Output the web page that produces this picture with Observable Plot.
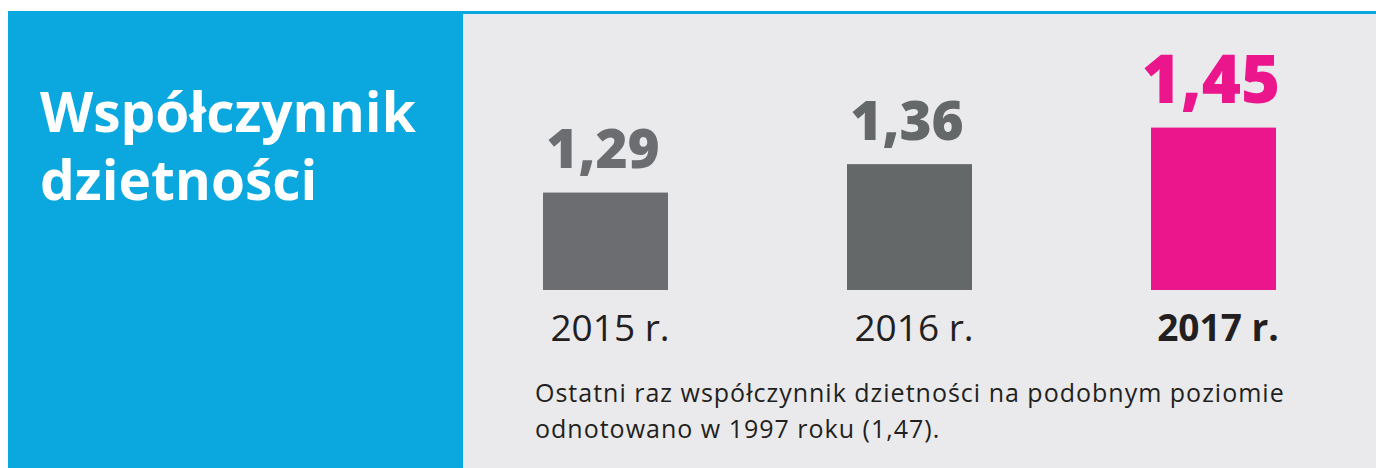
<!DOCTYPE html>
<html><head><meta charset="utf-8">
<script src="https://cdn.jsdelivr.net/npm/d3@7"></script>
<script src="https://cdn.jsdelivr.net/npm/@observablehq/plot@0.6"></script>
<style>
html,body{margin:0;padding:0;background:#fff;width:1376px;height:468px;overflow:hidden;font-family:"Open Sans",sans-serif;}
#blue{position:absolute;left:8px;top:11px;width:455px;height:457px;background:#0ba8e0;}
#topline{position:absolute;left:463px;top:11px;width:913px;height:3px;background:#0ba8e0;}
#gray{position:absolute;left:463px;top:13px;width:913px;height:455px;background:#eaeaec;}
#title{position:absolute;left:40px;top:77px;color:#fff;font-weight:700;font-size:55px;line-height:68px;white-space:nowrap;}
#chart{position:absolute;left:463px;top:13px;}
#caption{position:absolute;left:535px;top:374px;font-size:25px;letter-spacing:1px;line-height:36px;color:#231f20;white-space:nowrap;}
</style>
</head><body>
<div id="blue"></div><div id="gray"></div><div id="topline"></div>
<div id="title"></div>
<div id="chart"></div>
<div id="caption"></div>
<script>
const titleLines = ["Współczynnik", "dzietności"];
const years = [2015, 2016, 2017];
const values = [1.29, 1.36, 1.45];
const yearSuffix = " r.";
const highlightYear = 2017;
const baseline = 1.05;
const captionLines = [
  "Ostatni raz współczynnik dzietności na podobnym poziomie",
  "odnotowano w 1997 roku (1,47)."
];
const barColors = ["#6c6d71", "#646868", "#ec168c"];

const data = years.map((year, i) => ({year, value: values[i]}));
const fmt = v => v.toFixed(2).replace(".", ",");

document.getElementById("title").innerHTML = titleLines.join("<br>");
document.getElementById("caption").innerHTML = captionLines.join("<br>");

const W = 913, H = 360, bottom = 277;
const chart = Plot.plot({
  width: W,
  height: H,
  marginTop: 0,
  marginBottom: H - bottom,
  marginLeft: 0,
  marginRight: 0,
  style: {background: "transparent", fontFamily: "'Open Sans', sans-serif"},
  x: {domain: years, range: [79, 813], paddingInner: 0.59, paddingOuter: 0, axis: null},
  y: {domain: [baseline, 1.45], range: [bottom, 114.6], axis: null},
  color: {domain: years, range: barColors},
  marks: [
    Plot.barY(data, {x: "year", y1: baseline, y2: "value", fill: "year"}),
    Plot.text(data, {
      x: "year", y: "value", text: d => fmt(d.value), fill: "year",
      fontSize: d => d.year === highlightYear ? 67 : 55,
      fontWeight: 800, lineAnchor: "bottom", dy: -25, dx: -3
    }),
    Plot.text(data.filter(d => d.year !== highlightYear), {
      x: "year", frameAnchor: "bottom", text: d => d.year + yearSuffix,
      fill: "#231f20", fontSize: 37, fontWeight: 400, lineAnchor: "bottom", dy: 50, dx: 4
    }),
    Plot.text(data.filter(d => d.year === highlightYear), {
      x: "year", frameAnchor: "bottom", text: d => d.year + yearSuffix,
      fill: "#231f20", fontSize: 37, fontWeight: 700, lineAnchor: "bottom", dy: 50, dx: 4
    })
  ]
});
document.getElementById("chart").appendChild(chart);
</script>
</body></html>
